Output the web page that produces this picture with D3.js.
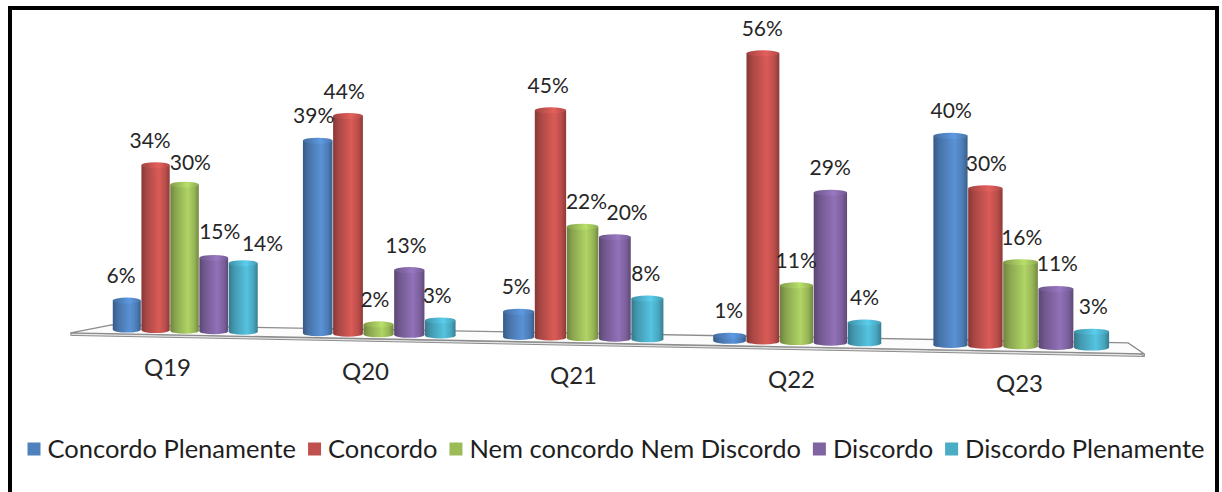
<!DOCTYPE html>
<html>
<head>
<meta charset="utf-8">
<script src="https://cdn.jsdelivr.net/npm/d3@7"></script>
<style>
  body { margin: 0; background: #fff; }
  svg { display: block; }
  text { font-family: Lato, "Open Sans", sans-serif; fill: #262626; }
</style>
</head>
<body>
<svg id="chart" width="1222" height="492"></svg>
<script>
// ---- data ----
const categories = ["Q19", "Q20", "Q21", "Q22", "Q23"];
const seriesNames = ["Concordo Plenamente", "Concordo", "Nem concordo Nem Discordo", "Discordo", "Discordo Plenamente"];
const concordoPlenamente = [6, 39, 5, 1, 40];
const concordo = [34, 44, 45, 56, 30];
const nemConcordoNemDiscordo = [30, 2, 22, 11, 16];
const discordo = [15, 13, 20, 29, 11];
const discordoPlenamente = [14, 3, 8, 4, 3];
const seriesColors = ["#4F81BD", "#C0504D", "#9BBB59", "#8064A2", "#4BACC6"];

const seriesValues = [concordoPlenamente, concordo, nemConcordoNemDiscordo, discordo, discordoPlenamente];

// hand-placed data labels (category, series) -> pixel nudge
const labelNudge = {
  "Q19|2": [11, 3],
  "Q19|3": [11, -2],
  "Q19|4": [24, 5],
  "Q21|2": [6, 0],
  "Q21|3": [14, 0]
};

const svg = d3.select("#chart");
const defs = svg.append("defs");

// ---- scales (world units along the floor) ----
const uScale = d3.scaleBand().domain(categories).range([0, 5]).padding(0);
const sScale = d3.scaleBand().domain(d3.range(seriesNames.length)).range([0.115, 0.885]).padding(0);
const hScale = d3.scaleLinear().domain([0, 60]).range([0, 289]);

// ---- 3D view: horizontal foreshortening + tilted floor ----
const projX = u => 91.25 + 184 * u + 5 * u * u;
const baseY = x => 327.2 + 0.0187 * x;
const depthScale = u => 1 + 0.0204 * u;
const depthShift = x => {
  const t = (x - 89.5) / 1045.5;
  return [-41 + 57 * t, 8 + 3 * t];
};

// ---- cylinder gradients ----
seriesColors.forEach((c, i) => {
  const base = d3.color(c);
  const g = defs.append("linearGradient").attr("id", "cyl" + i)
    .attr("x1", 0).attr("x2", 1).attr("y1", 0).attr("y2", 0);
  [[0, base.darker(1.0)], [0.18, base.darker(0.35)], [0.62, base.brighter(0.35)],
   [0.85, base.darker(0.1)], [1, base.darker(0.9)]]
    .forEach(([o, col]) => g.append("stop").attr("offset", o).attr("stop-color", col.formatHex()));
  const t = defs.append("linearGradient").attr("id", "cap" + i)
    .attr("x1", 0).attr("x2", 1).attr("y1", 0).attr("y2", 0);
  [[0, base.darker(0.5)], [0.6, base.brighter(0.5)], [1, base.darker(0.3)]]
    .forEach(([o, col]) => t.append("stop").attr("offset", o).attr("stop-color", col.formatHex()));
});

// ---- floor ----
const floorG = svg.append("g");
const mid = u => { const x = projX(u); return [x, baseY(x)]; };
const corner = (u, side) => {
  const [x, y] = mid(u); const [dx, dy] = depthShift(x);
  return [x + side * dx / 2, y + side * dy / 2];
};
const bl = corner(0, -1), br = corner(5, -1), fr = corner(5, 1), fl = corner(0, 1);
const slab = 2.5;
floorG.append("path")
  .attr("d", `M${fl}L${fr}L${fr[0]},${fr[1] + slab}L${fl[0]},${fl[1] + slab}Z`)
  .attr("fill", "#e4e4e4").attr("stroke", "#8c8c8c").attr("stroke-width", 1);
floorG.append("path")
  .attr("d", `M${br}L${fr}L${fr[0]},${fr[1] + slab}L${br[0]},${br[1] + slab}Z`)
  .attr("fill", "#e4e4e4").attr("stroke", "#8c8c8c").attr("stroke-width", 1);
floorG.append("path")
  .attr("d", `M${bl}L${br}L${fr}L${fl}Z`)
  .attr("fill", "#fcfcfc").attr("stroke", "#8c8c8c").attr("stroke-width", 1.3)
  .attr("stroke-linejoin", "round");

// ---- bars ----
const bars = [];
categories.forEach((cat, ci) => {
  seriesValues.forEach((vals, si) => {
    const u0 = uScale(cat) + sScale(si);
    const u1 = u0 + sScale.bandwidth();
    const uc = (u0 + u1) / 2;
    const x0 = projX(u0) + 0.3, x1 = projX(u1) - 0.3;
    const xc = (x0 + x1) / 2;
    const yb = baseY(xc);
    const h = hScale(vals[ci]) * depthScale(uc);
    bars.push({ cat, si, v: vals[ci], uc, x0, x1, xc, yb, yt: yb - h });
  });
});

const ry = 3;
const barG = svg.append("g").selectAll("g").data(bars).join("g");
barG.append("ellipse")
  .attr("cx", d => d.xc).attr("cy", d => d.yb)
  .attr("rx", d => (d.x1 - d.x0) / 2).attr("ry", ry)
  .attr("fill", d => `url(#cyl${d.si})`);
barG.append("rect")
  .attr("x", d => d.x0).attr("y", d => d.yt)
  .attr("width", d => d.x1 - d.x0).attr("height", d => d.yb - d.yt)
  .attr("fill", d => `url(#cyl${d.si})`);
barG.append("ellipse")
  .attr("cx", d => d.xc).attr("cy", d => d.yt)
  .attr("rx", d => (d.x1 - d.x0) / 2).attr("ry", ry)
  .attr("fill", d => `url(#cap${d.si})`);

// ---- data labels ----
svg.append("g").selectAll("text").data(bars).join("text")
  .attr("x", d => {
    const n = labelNudge[d.cat + "|" + d.si] || [0, 0];
    return d.xc - 6 + 1.6 * d.uc + n[0];
  })
  .attr("y", d => {
    const n = labelNudge[d.cat + "|" + d.si] || [0, 0];
    return d.yt - 25 + n[1];
  })
  .attr("dy", "0.36em")
  .attr("text-anchor", "middle")
  .attr("font-size", 21)
  .text(d => d.v + "%");

// ---- category labels ----
svg.append("g").selectAll("text").data(categories).join("text")
  .attr("x", c => { const u = uScale(c) + 0.5; return projX(u) - 19 + 4 * u; })
  .attr("y", c => baseY(projX(uScale(c) + 0.5)) + 37)
  .attr("dy", "0.36em")
  .attr("text-anchor", "middle")
  .attr("font-size", 24)
  .text(c => c);

// ---- legend ----
const legend = svg.append("g");
const items = legend.selectAll("g").data(seriesNames).join("g");
items.append("rect").attr("width", 13).attr("height", 13).attr("y", -6.5)
  .attr("fill", (d, i) => seriesColors[i]);
items.append("text").attr("x", 20).attr("dy", "0.36em").attr("font-size", 25.5)
  .style("fill", "#1e1e1e").text(d => d);
let cursor = 0;
const widths = [];
items.each(function () {
  const w = 20 + d3.select(this).select("text").node().getComputedTextLength();
  widths.push(w);
});
items.attr("transform", (d, i) => {
  const x = cursor; cursor += widths[i] + 12; return `translate(${x},0)`;
});
const total = cursor - 12;
legend.attr("transform", `translate(${616 - total / 2},449)`);

// ---- frame ----
svg.append("rect").attr("x", 10).attr("y", 8).attr("width", 1207).attr("height", 500)
  .attr("fill", "none").attr("stroke", "#000").attr("stroke-width", 4);
</script>
</body>
</html>
